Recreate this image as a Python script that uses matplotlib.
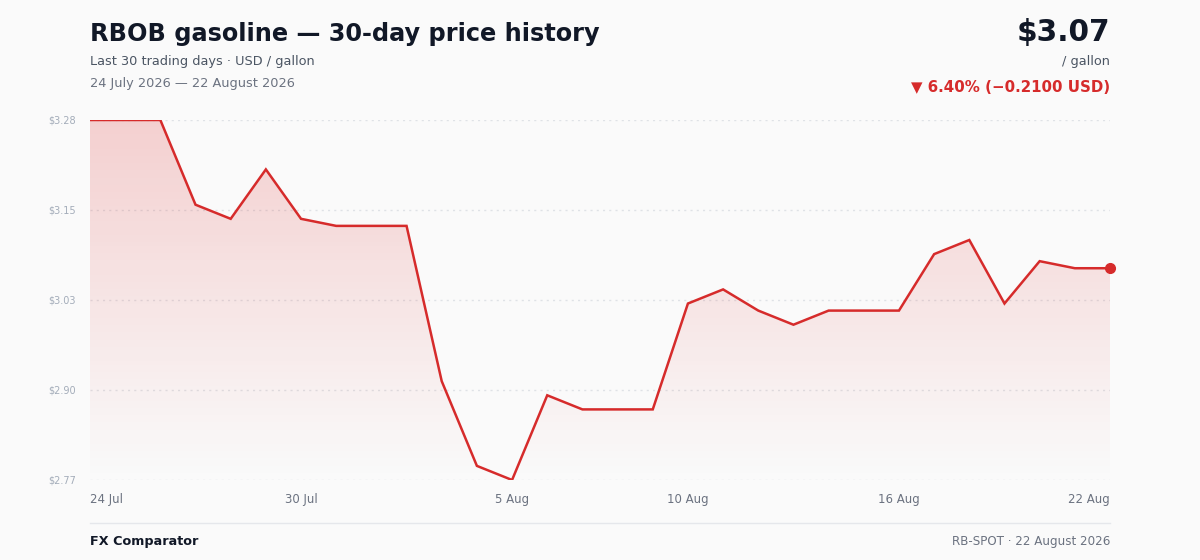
import matplotlib
matplotlib.use("Agg")
import matplotlib.pyplot as plt
import numpy as np
from matplotlib.patches import Polygon

# datos
fechas = ["24 Jul", "25 Jul", "26 Jul", "27 Jul", "28 Jul", "29 Jul", "30 Jul", "31 Jul",
          "1 Aug", "2 Aug", "3 Aug", "4 Aug", "5 Aug", "6 Aug", "7 Aug", "8 Aug", "9 Aug",
          "10 Aug", "11 Aug", "12 Aug", "13 Aug", "14 Aug", "15 Aug", "16 Aug", "17 Aug",
          "18 Aug", "19 Aug", "20 Aug", "21 Aug", "22 Aug"]
precios = [3.28, 3.28, 3.28, 3.16, 3.14, 3.21, 3.14, 3.13, 3.13, 3.13, 2.91, 2.79, 2.77,
           2.89, 2.87, 2.87, 2.87, 3.02, 3.04, 3.01, 2.99, 3.01, 3.01, 3.01, 3.09, 3.11,
           3.02, 3.08, 3.07, 3.07]
etiquetas_x = ["24 Jul", "30 Jul", "5 Aug", "10 Aug", "16 Aug", "22 Aug"]

fondo = "#fafafa"
rojo = "#d62b2b"

fig = plt.figure(figsize=(12, 5.6), dpi=100, facecolor=fondo)
ax = fig.add_axes([0.075, 1 - 480 / 560, 0.85, 360 / 560])
ax.set_facecolor(fondo)

x = np.arange(len(precios))
ymin, ymax = min(precios), max(precios)
ax.set_xlim(0, len(precios) - 1)
ax.set_ylim(ymin, ymax)

# relleno degradado bajo la linea
verts = [(0, ymin)] + list(zip(x, precios)) + [(x[-1], ymin)]
poly = Polygon(verts, closed=True, facecolor="none", edgecolor="none")
ax.add_patch(poly)
grad = np.zeros((100, 1, 4))
grad[:, 0, 0] = 0.86
grad[:, 0, 1] = 0.15
grad[:, 0, 2] = 0.15
grad[:, 0, 3] = np.linspace(0.2, 0.0, 100)
img = ax.imshow(grad, aspect="auto", extent=[0, x[-1], ymin, ymax], origin="upper", zorder=1)
img.set_clip_path(poly)

ax.plot(x, precios, color=rojo, lw=1.8, zorder=3, solid_joinstyle="miter")
ax.plot(x[-1], precios[-1], "o", color=rojo, ms=7, zorder=4, clip_on=False)

# ejes
yticks = np.linspace(ymin, ymax, 5)
ax.set_yticks(yticks)
ax.set_yticklabels(["$%.2f" % (v + 1e-9) for v in yticks], fontsize=7, color="#a3acb9")
for v in yticks:
    ax.axhline(v, color="#dfe2e6", lw=1, ls=(0, (1.5, 3)), zorder=0)
pos = [fechas.index(e) for e in etiquetas_x]
ax.set_xticks(pos)
ax.set_xticklabels(etiquetas_x, fontsize=8.5, color="#6b7280")
lbls = ax.get_xticklabels()
lbls[0].set_ha("left")
lbls[-1].set_ha("right")
ax.tick_params(length=0, pad=9)
ax.tick_params(axis="y", pad=10)
for s in ax.spines.values():
    s.set_visible(False)

# textos
fig.text(90 / 1200, 1 - 34 / 560, "RBOB gasoline — 30-day price history", fontsize=17.3,
         fontweight="bold", color="#111827", va="center")
fig.text(90 / 1200, 1 - 61 / 560, "Last 30 trading days · USD / gallon", fontsize=9.3,
         color="#4b5563", va="center")
fig.text(90 / 1200, 1 - 83 / 560, "24 July 2026 — 22 August 2026", fontsize=9.3,
         color="#6b7280", va="center")
cambio = precios[-1] - precios[0]
pct = cambio / precios[0] * 100
fig.text(1110 / 1200, 1 - 32 / 560, "$%.2f" % precios[-1], fontsize=21.3, fontweight="bold",
         color="#111827", va="center", ha="right")
fig.text(1110 / 1200, 1 - 61 / 560, "/ gallon", fontsize=9.3, color="#4b5563",
         va="center", ha="right")
fig.text(1110 / 1200, 1 - 87 / 560,
         "▼ %.2f%% (−%.4f USD)" % (abs(pct), abs(cambio)), fontsize=10.8,
         fontweight="bold", color=rojo, va="center", ha="right")

fig.add_artist(plt.Line2D([90 / 1200, 1110 / 1200], [1 - 523 / 560] * 2,
                          color="#e5e7eb", lw=1))
fig.text(90 / 1200, 1 - 541 / 560, "FX Comparator", fontsize=9.2, fontweight="bold",
         color="#111827", va="center")
fig.text(1110 / 1200, 1 - 541 / 560, "RB-SPOT · 22 August 2026", fontsize=8.6,
         color="#6b7280", va="center", ha="right")

fig.savefig("out.png", dpi=100, facecolor=fondo)
